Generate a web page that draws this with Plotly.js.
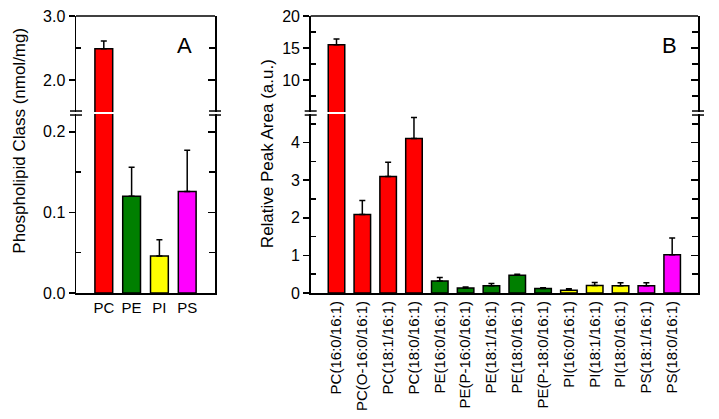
<!DOCTYPE html>
<html>
<head>
<meta charset="utf-8">
<script src="https://cdn.plot.ly/plotly-3.0.1.min.js"></script>
<style>html,body{margin:0;padding:0;background:#fff;}#chart{width:719px;height:419px;}</style>
</head>
<body>
<div id="chart"></div>
<script>
// Panel A data
const classCategories = ["PC", "PE", "PI", "PS"];
const classValues = [2.49, 0.120, 0.046, 0.126];
const classErrors = [0.12, 0.036, 0.020, 0.051];
const classColors = ["#ff0000", "#007f00", "#ffff00", "#ff00ff"];

// Panel B data
const speciesCategories = [
  "PC(16:0/16:1)", "PC(O-16:0/16:1)", "PC(18:1/16:1)", "PC(18:0/16:1)",
  "PE(16:0/16:1)", "PE(P-16:0/16:1)", "PE(18:1/16:1)", "PE(18:0/16:1)",
  "PE(P-18:0/16:1)", "PI(16:0/16:1)", "PI(18:1/16:1)", "PI(18:0/16:1)",
  "PS(18:1/16:1)", "PS(18:0/16:1)"
];
const speciesValues = [15.5, 2.09, 3.10, 4.11, 0.32, 0.13, 0.19, 0.47, 0.12, 0.07, 0.20, 0.19, 0.19, 1.02];
const speciesErrors = [0.9, 0.37, 0.38, 0.56, 0.09, 0.03, 0.06, 0.03, 0.02, 0.04, 0.08, 0.08, 0.08, 0.44];
const speciesColors = [
  "#ff0000", "#ff0000", "#ff0000", "#ff0000",
  "#007f00", "#007f00", "#007f00", "#007f00", "#007f00",
  "#ffff00", "#ffff00", "#ffff00",
  "#ff00ff", "#ff00ff"
];

const FONT = "Liberation Sans, Arial, sans-serif";

function barTrace(cats, vals, errs, colors, xa, ya) {
  return {
    type: "bar", x: cats, y: vals, xaxis: xa, yaxis: ya,
    width: 0.64,
    marker: {color: colors, line: {color: "#000", width: 1.5}},
    error_y: {type: "data", symmetric: false, array: errs,
              arrayminus: errs.map(() => 0), color: "#000", thickness: 1.5, width: 3},
    hoverinfo: "skip", showlegend: false
  };
}
function frameTrace(xa, ya) {
  return {type: "scatter", mode: "none", x: [], y: [], xaxis: xa, yaxis: ya,
          hoverinfo: "skip", showlegend: false};
}

const data = [
  barTrace(classCategories, classValues, classErrors, classColors, "x", "y"),
  barTrace(classCategories, classValues, classErrors, classColors, "x", "y2"),
  barTrace(speciesCategories, speciesValues, speciesErrors, speciesColors, "x2", "y3"),
  barTrace(speciesCategories, speciesValues, speciesErrors, speciesColors, "x2", "y4"),
  frameTrace("x", "y5"), frameTrace("x", "y6"), frameTrace("x2", "y7"), frameTrace("x2", "y8")
];

const LOW = [0, 0.646];
const HIGH = [0.653, 1];
const XA = [0, 0.2235];
const XB = [0.3773, 1];

function leftAxis(domain, range, xa, tickvals, ticktext, minorvals) {
  return {
    domain: domain, range: range, anchor: xa, side: "left",
    showline: true, linecolor: "#000", linewidth: 1.5,
    showgrid: false, zeroline: false,
    ticks: "outside", ticklen: 6, tickwidth: 1.5, tickcolor: "#000",
    tickvals: tickvals, ticktext: ticktext,
    tickfont: {family: FONT, size: 16, color: "#000"},
    minor: {tickvals: minorvals, ticks: "inside", ticklen: 5, tickwidth: 1.5, tickcolor: "#000", showgrid: false},
    fixedrange: true
  };
}
function rightAxis(over, range, xa, tickvals, minorvals) {
  return {
    overlaying: over, range: range, anchor: xa, side: "right",
    showline: true, linecolor: "#000", linewidth: 1.5,
    showgrid: false, zeroline: false, showticklabels: false,
    ticks: "inside", ticklen: 7, tickwidth: 1.5, tickcolor: "#000",
    tickvals: tickvals,
    minor: {tickvals: minorvals, ticks: "inside", ticklen: 6, tickwidth: 1.5, tickcolor: "#000", showgrid: false},
    fixedrange: true
  };
}
function catAxis(domain, range, ya, angle, size) {
  return {
    domain: domain, range: range, anchor: ya, type: "category",
    showline: true, linecolor: "#000", linewidth: 2,
    showgrid: false, zeroline: false, ticks: "", tickangle: angle,
    tickfont: {family: FONT, size: size, color: "#000"}, fixedrange: true
  };
}

const rA_low = [0, 0.222], rA_high = [1.5, 3.0];
const rB_low = [0, 4.76], rB_high = [5, 20];

const breakMarks = [];
function addBreak(xpos) {
  [0.6425, 0.657].forEach(yv => breakMarks.push({
    type: "line", xref: "paper", yref: "paper", xsizemode: "pixel", xanchor: xpos,
    x0: -6, x1: 6, y0: yv, y1: yv, line: {color: "#000", width: 1.5}
  }));
}
[XA[0], XA[1], XB[0], XB[1]].forEach(addBreak);
const borders = [XA, XB].map(d => ({
  type: "line", xref: "paper", yref: "paper", x0: d[0], x1: d[1], y0: 1, y1: 1,
  line: {color: "#000", width: 1.5}
}));

const layout = {
  width: 719, height: 419,
  margin: {l: 76, r: 21, t: 16, b: 126, pad: 0},
  paper_bgcolor: "#fff", plot_bgcolor: "rgba(0,0,0,0)",
  font: {family: FONT, color: "#000"},
  xaxis: catAxis(XA, [-1, 4], "y", 0, 15),
  xaxis2: catAxis(XB, [-1, 14], "y3", -90, 15),
  yaxis: leftAxis(LOW, rA_low, "x", [0, 0.1, 0.2], ["0.0", "0.1", "0.2"], [0.05, 0.15]),
  yaxis2: leftAxis(HIGH, rA_high, "x", [2, 3], ["2.0", "3.0"], [2.5]),
  yaxis3: leftAxis(LOW, rB_low, "x2", [0, 1, 2, 3, 4], ["0", "1", "2", "3", "4"], [0.5, 1.5, 2.5, 3.5, 4.5]),
  yaxis4: leftAxis(HIGH, rB_high, "x2", [10, 15, 20], ["10", "15", "20"], [7.5, 12.5, 17.5]),
  yaxis5: rightAxis("y", rA_low, "x", [0, 0.1, 0.2], [0.05, 0.15]),
  yaxis6: rightAxis("y2", rA_high, "x", [2, 3], [2.5]),
  yaxis7: rightAxis("y3", rB_low, "x2", [0, 1, 2, 3, 4], [0.5, 1.5, 2.5, 3.5, 4.5]),
  yaxis8: rightAxis("y4", rB_high, "x2", [10, 15, 20], [7.5, 12.5, 17.5]),
  shapes: breakMarks.concat(borders),
  annotations: [
    {text: "Phospholipid Class (nmol/mg)", xref: "paper", yref: "paper", x: -0.09, y: 0.55,
     xanchor: "center", yanchor: "middle", textangle: -90, showarrow: false,
     font: {family: FONT, size: 17, color: "#000"}},
    {text: "Relative Peak Area (a.u.)", xref: "paper", yref: "paper", x: 0.309, y: 0.502,
     xanchor: "center", yanchor: "middle", textangle: -90, showarrow: false,
     font: {family: FONT, size: 17, color: "#000"}},
    {text: "A", xref: "paper", yref: "paper", x: 0.175, y: 0.895,
     xanchor: "center", yanchor: "middle", showarrow: false,
     font: {family: FONT, size: 22, color: "#000"}},
    {text: "B", xref: "paper", yref: "paper", x: 0.954, y: 0.895,
     xanchor: "center", yanchor: "middle", showarrow: false,
     font: {family: FONT, size: 22, color: "#000"}}
  ]
};

Plotly.newPlot("chart", data, layout, {staticPlot: true, displayModeBar: false});
</script>
</body>
</html>
